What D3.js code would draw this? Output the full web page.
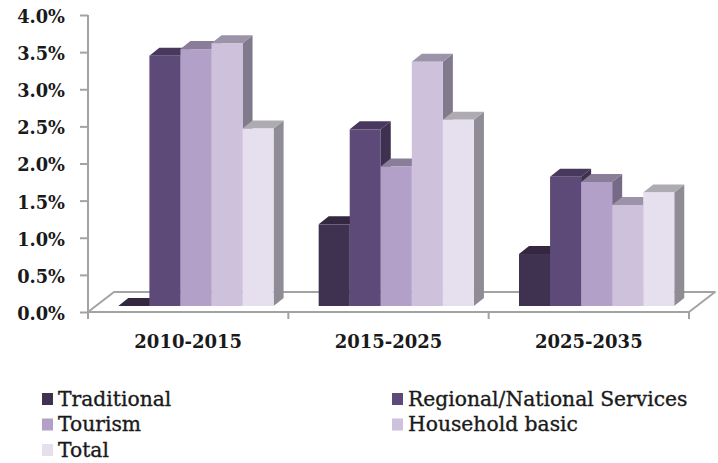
<!DOCTYPE html>
<html>
<head>
<meta charset="utf-8">
<script src="https://cdn.jsdelivr.net/npm/d3@7"></script>
<style>
  body { margin: 0; background: #fff; }
  svg text { fill: #1a1a1a; }
</style>
</head>
<body>
<svg id="chart" width="718" height="463"></svg>
<script>
// Annual growth rates by sector and period
const periods = ["2010-2015", "2015-2025", "2025-2035"];
const seriesNames = ["Traditional", "Regional/National Services", "Tourism", "Household basic", "Total"];
const traditional      = [0.0000, 0.0110, 0.0070];
const regionalNational = [0.0337, 0.0238, 0.0174];
const tourism          = [0.0346, 0.0188, 0.0167];
const householdBasic   = [0.0354, 0.0329, 0.0136];
const total            = [0.0239, 0.0251, 0.0153];
const yTicks = [0, 0.005, 0.01, 0.015, 0.02, 0.025, 0.03, 0.035, 0.04];

const seriesValues = [traditional, regionalNational, tourism, householdBasic, total];

// front / top / side shades for each series
const palette = [
  { front: "#3f3150", top: "#33283f", side: "#2c2236" },
  { front: "#5e4a78", top: "#48385e", side: "#3e304f" },
  { front: "#b2a0c8", top: "#8a7d99", side: "#766a86" },
  { front: "#cec1dc", top: "#9d93a8", side: "#807a8c" },
  { front: "#e6e0ee", top: "#aeabb3", side: "#8f8c96" }
];

const svg = d3.select("#chart");

const plot = { left: 88, right: 689, top: 15, bottom: 312 };
// oblique projection of the floor depth
const floorDX = 26, floorDY = -20;
// bars sit partway into the floor and have their own depth
const barShiftX = floorDX * 0.3, barShiftY = floorDY * 0.3;
const barDX = 10, barDY = -8;

const y = d3.scaleLinear().domain([0, 0.04]).range([plot.bottom, plot.top]);
const x0 = d3.scaleBand().domain(periods).range([plot.left, plot.right]).padding(0);
const x1 = d3.scaleBand().domain(seriesNames)
  .range([x0.bandwidth() * 0.1125, x0.bandwidth() * 0.8875]).padding(0);

const axisColor = "#a3a3a3";

// floor
const floor = svg.append("g");
floor.append("path")
  .attr("d", `M${plot.left},${plot.bottom} L${plot.right},${plot.bottom} L${plot.right + floorDX},${plot.bottom + floorDY} L${plot.left + floorDX},${plot.bottom + floorDY} Z`)
  .attr("fill", "#ffffff")
  .attr("stroke", axisColor)
  .attr("stroke-width", 2)
  .attr("stroke-linejoin", "round");

// value axis
const yAxis = svg.append("g")
  .attr("transform", `translate(${plot.left},0)`)
  .call(d3.axisLeft(y).tickValues(yTicks).tickFormat(d3.format(".1%")).tickSize(8).tickPadding(15));
yAxis.select(".domain").attr("stroke", axisColor).attr("stroke-width", 2)
  .attr("d", `M0,${plot.top}V${plot.bottom}`);
yAxis.selectAll(".tick line").attr("stroke", axisColor).attr("stroke-width", 2);
yAxis.selectAll(".tick text")
  .attr("font-family", "DejaVu Serif")
  .attr("font-weight", "bold")
  .attr("font-size", 17.8)
  .attr("fill", "#1a1a1a")
  .attr("dy", "0.42em");

// category axis
const xAxis = svg.append("g")
  .attr("transform", `translate(0,${plot.bottom})`);
const catTicks = periods.map(p => x0(p)).concat([plot.right]);
xAxis.selectAll("line.cat").data(catTicks).join("line")
  .attr("x1", d => d).attr("x2", d => d)
  .attr("y1", 0).attr("y2", 7)
  .attr("stroke", axisColor).attr("stroke-width", 2);
xAxis.selectAll("text").data(periods).join("text")
  .attr("x", d => x0(d) + x0.bandwidth() / 2)
  .attr("y", 36)
  .attr("text-anchor", "middle")
  .attr("font-family", "DejaVu Serif")
  .attr("font-weight", "bold")
  .attr("font-size", 18)
  .text(d => d);

// bars, drawn left to right so each front face covers the previous side face
const bars = [];
periods.forEach((p, i) => {
  seriesNames.forEach((s, j) => {
    bars.push({ period: p, series: s, idx: j, value: seriesValues[j][i] });
  });
});

const barG = svg.append("g");
bars.forEach(b => {
  const xl = x0(b.period) + x1(b.series) + barShiftX;
  const xr = xl + x1.bandwidth();
  const yb = y(0) + barShiftY;
  const yt = y(b.value) + barShiftY;
  const c = palette[b.idx];
  const g = barG.append("g");
  // side face
  g.append("path")
    .attr("d", `M${xr},${yb} L${xr + barDX},${yb + barDY} L${xr + barDX},${yt + barDY} L${xr},${yt} Z`)
    .attr("fill", c.side);
  // top face
  g.append("path")
    .attr("d", `M${xl},${yt} L${xl + barDX},${yt + barDY} L${xr + barDX},${yt + barDY} L${xr},${yt} Z`)
    .attr("fill", c.top);
  // front face
  g.append("rect")
    .attr("x", xl).attr("y", yt)
    .attr("width", x1.bandwidth()).attr("height", Math.max(0, yb - yt))
    .attr("fill", c.front);
});

// legend
const legendLayout = [
  { x: 42, row: 0 }, { x: 392, row: 0 },
  { x: 42, row: 1 }, { x: 392, row: 1 },
  { x: 42, row: 2 }
];
const legend = svg.append("g");
seriesNames.forEach((s, j) => {
  const pos = legendLayout[j];
  const cy = 399 + pos.row * 25.5;
  legend.append("rect")
    .attr("x", pos.x).attr("y", cy - 6)
    .attr("width", 11).attr("height", 12)
    .attr("fill", palette[j].front);
  legend.append("text")
    .attr("x", pos.x + 16).attr("y", cy + 6.5)
    .attr("font-family", "DejaVu Serif")
    .attr("font-size", 20.3)
    .attr("stroke", "#1a1a1a")
    .attr("stroke-width", 0.35)
    .text(s);
});
</script>
</body>
</html>
